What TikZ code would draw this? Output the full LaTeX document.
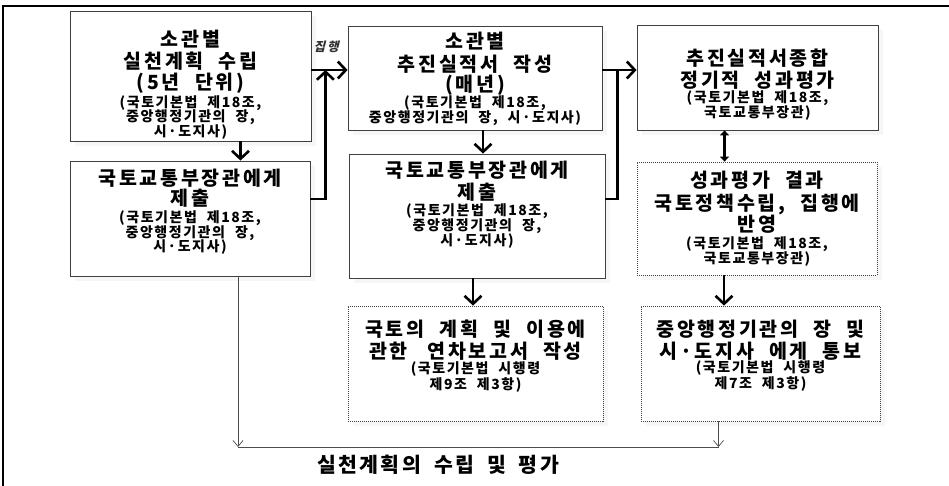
\documentclass[tikz,border=0pt]{standalone}
\usepackage{fontspec}
\setmainfont{Noto Sans CJK KR}[LetterSpace=11,WordSpace=2.1]
\newfontfamily\slantkr{Noto Sans CJK KR}[FakeSlant=0.25,LetterSpace=16]
\newfontfamily\widekr{Noto Sans CJK KR}[LetterSpace=12,WordSpace=1.8]
\usetikzlibrary{arrows.meta,shadows}

\newcommand\hd{\fontsize{19.5}{14.5}\selectfont\addfontfeature{LetterSpace=14}}
\newcommand\sm{\fontsize{14}{14.5}\selectfont}

\tikzset{
  card/.style={draw=black!75, line width=0.8pt, fill=white, align=center,
    font={\sm\bfseries\lineskiplimit=-100pt}, inner sep=2pt,
    drop shadow={fill=black!7, draw=none, shadow xshift=5pt, shadow yshift=-5pt}},
  dotcard/.style={card, dash pattern=on 1pt off 1pt},
  flow/.style={line width=2.6pt, -{Straight Barb[length=8pt,width=17pt]}},
  bar/.style={line width=2.6pt},
  both/.style={line width=2.4pt, {Triangle[length=5pt,width=9pt]}-{Triangle[length=5pt,width=9pt]}},
  thinflow/.style={draw=black!70, line width=0.7pt, -{Straight Barb[length=6pt,width=10pt]}},
  thinline/.style={draw=black!70, line width=0.7pt}
}

\begin{document}
\begin{tikzpicture}[x=1pt, y=-1pt]
  \useasboundingbox (0,0) rectangle (949,486);

  % Frame
  \draw[line width=1.6pt] (949,6) -- (3,6) -- (3,486);

  % Left column
  \node[card, minimum width=241pt, minimum height=108pt] (plan) at (190.5,76)
    {{}\\[18.5pt]{\hd 소관별}\\[7.5pt]{\hd 실천계획 수립}\\[6.5pt]{\hd (5년 단위)}\\[3.5pt]
     (국토기본법 제18조,\\중앙행정기관의 장,\\시·도지사)};
  \node[card, minimum width=240pt, minimum height=115pt, text depth=16pt] (submit) at (190,218.5)
    {{\hd 국토교통부장관에게}\\[5.5pt]{\hd 제출}\\[2.5pt]
     (국토기본법 제18조,\\중앙행정기관의 장,\\시·도지사)};

  % Middle column
  \node[card, minimum width=254pt, minimum height=104pt, text depth=1pt] (report) at (475,78)
    {{\hd 소관별}\\[8pt]{\hd 추진실적서 작성}\\[5.5pt]{\hd (매년)}\\[1.5pt]
     (국토기본법 제18조,\\[0.5pt]중앙행정기관의 장, 시·도지사)};
  \node[card, minimum width=256pt, minimum height=124pt, text depth=25pt] (resubmit) at (477,216)
    {{\hd 국토교통부장관에게}\\[7.5pt]{\hd 제출}\\[1.5pt]
     (국토기본법 제18조,\\중앙행정기관의 장,\\[0.5pt]시·도지사)};
  \node[dotcard, minimum width=255pt, minimum height=115pt, text depth=18pt] (annual) at (475.5,363.5)
    {{\hd 국토의 계획 및 이용에}\\[7.5pt]{\hd 관한\quad 연차보고서 작성}\\[0pt]
     (국토기본법 시행령\\[1.5pt]제9조 제3항)};

  % Right column
  \node[card, minimum width=241pt, minimum height=105pt] (review) at (757.5,77.5)
    {{}\\[15.5pt]{\hd 추진실적서종합}\\[7.5pt]{\hd 정기적 성과평가}\\[0.5pt]
     (국토기본법 제18조,\\[0.5pt]국토교통부장관)};
  \node[dotcard, minimum width=240pt, minimum height=113pt] (feedback) at (757,218.5)
    {{\hd 성과평가 결과}\\[8.5pt]{\hd 국토정책수립, 집행에}\\[6.5pt]{\hd 반영}\\[2.5pt]
     (국토기본법 제18조,\\국토교통부장관)};
  \node[dotcard, minimum width=239pt, minimum height=115pt, text depth=18pt] (notify) at (760.5,363.5)
    {{\hd 중앙행정기관의 장 및}\\[7.5pt]{\hd 시·도지사 에게 통보}\\[0pt]
     (국토기본법 시행령\\[1.5pt]제7조 제3항)};

  % Connectors
  \coordinate (run) at (0,70);
  \coordinate (base) at (0,447);
  \node[font={\slantkr\fontsize{12.5}{14}\selectfont\bfseries}, text=black!80] (runlabel) at (326,47) {집행};

  \draw[flow] ([xshift=50pt]plan.south) -- ([xshift=50pt]plan.south |- submit.north);
  \draw[flow] (plan.east |- run) -- (report.west |- run);
  \draw[flow] ([yshift=19.5pt]submit.east) -| ([xshift=14pt]plan.east |- run);

  \draw[flow] ([xshift=8pt]report.south) -- ([xshift=8pt]report.south |- resubmit.north);
  \draw[flow] ([xshift=-4pt]resubmit.south) -- ([xshift=-4pt]resubmit.south |- annual.north);
  \draw[flow] (report.east |- run) -- (review.west |- run);
  \draw[bar] ([yshift=17pt]resubmit.east) -| ([xshift=15pt]report.east |- run);

  \draw[both] ([xshift=-33pt]review.south) -- ([xshift=-33pt]review.south |- feedback.north);
  \draw[flow] ([xshift=-33pt]feedback.south) -- ([xshift=-33pt]feedback.south |- notify.north);

  % Bottom summary
  \draw[thinflow] ([xshift=48pt]submit.south) -- ([xshift=48pt]submit.south |- base);
  \draw[thinline] ([xshift=48pt]submit.south |- base) -- ([xshift=-42pt]notify.south |- base);
  \draw[thinflow] ([xshift=-42pt]notify.south) -- ([xshift=-42pt]notify.south |- base);
  \node[font={\widekr\fontsize{20.5}{22}\selectfont\bfseries}] (summary) at (438,465) {실천계획의 수립 및 평가};
\end{tikzpicture}
\end{document}
